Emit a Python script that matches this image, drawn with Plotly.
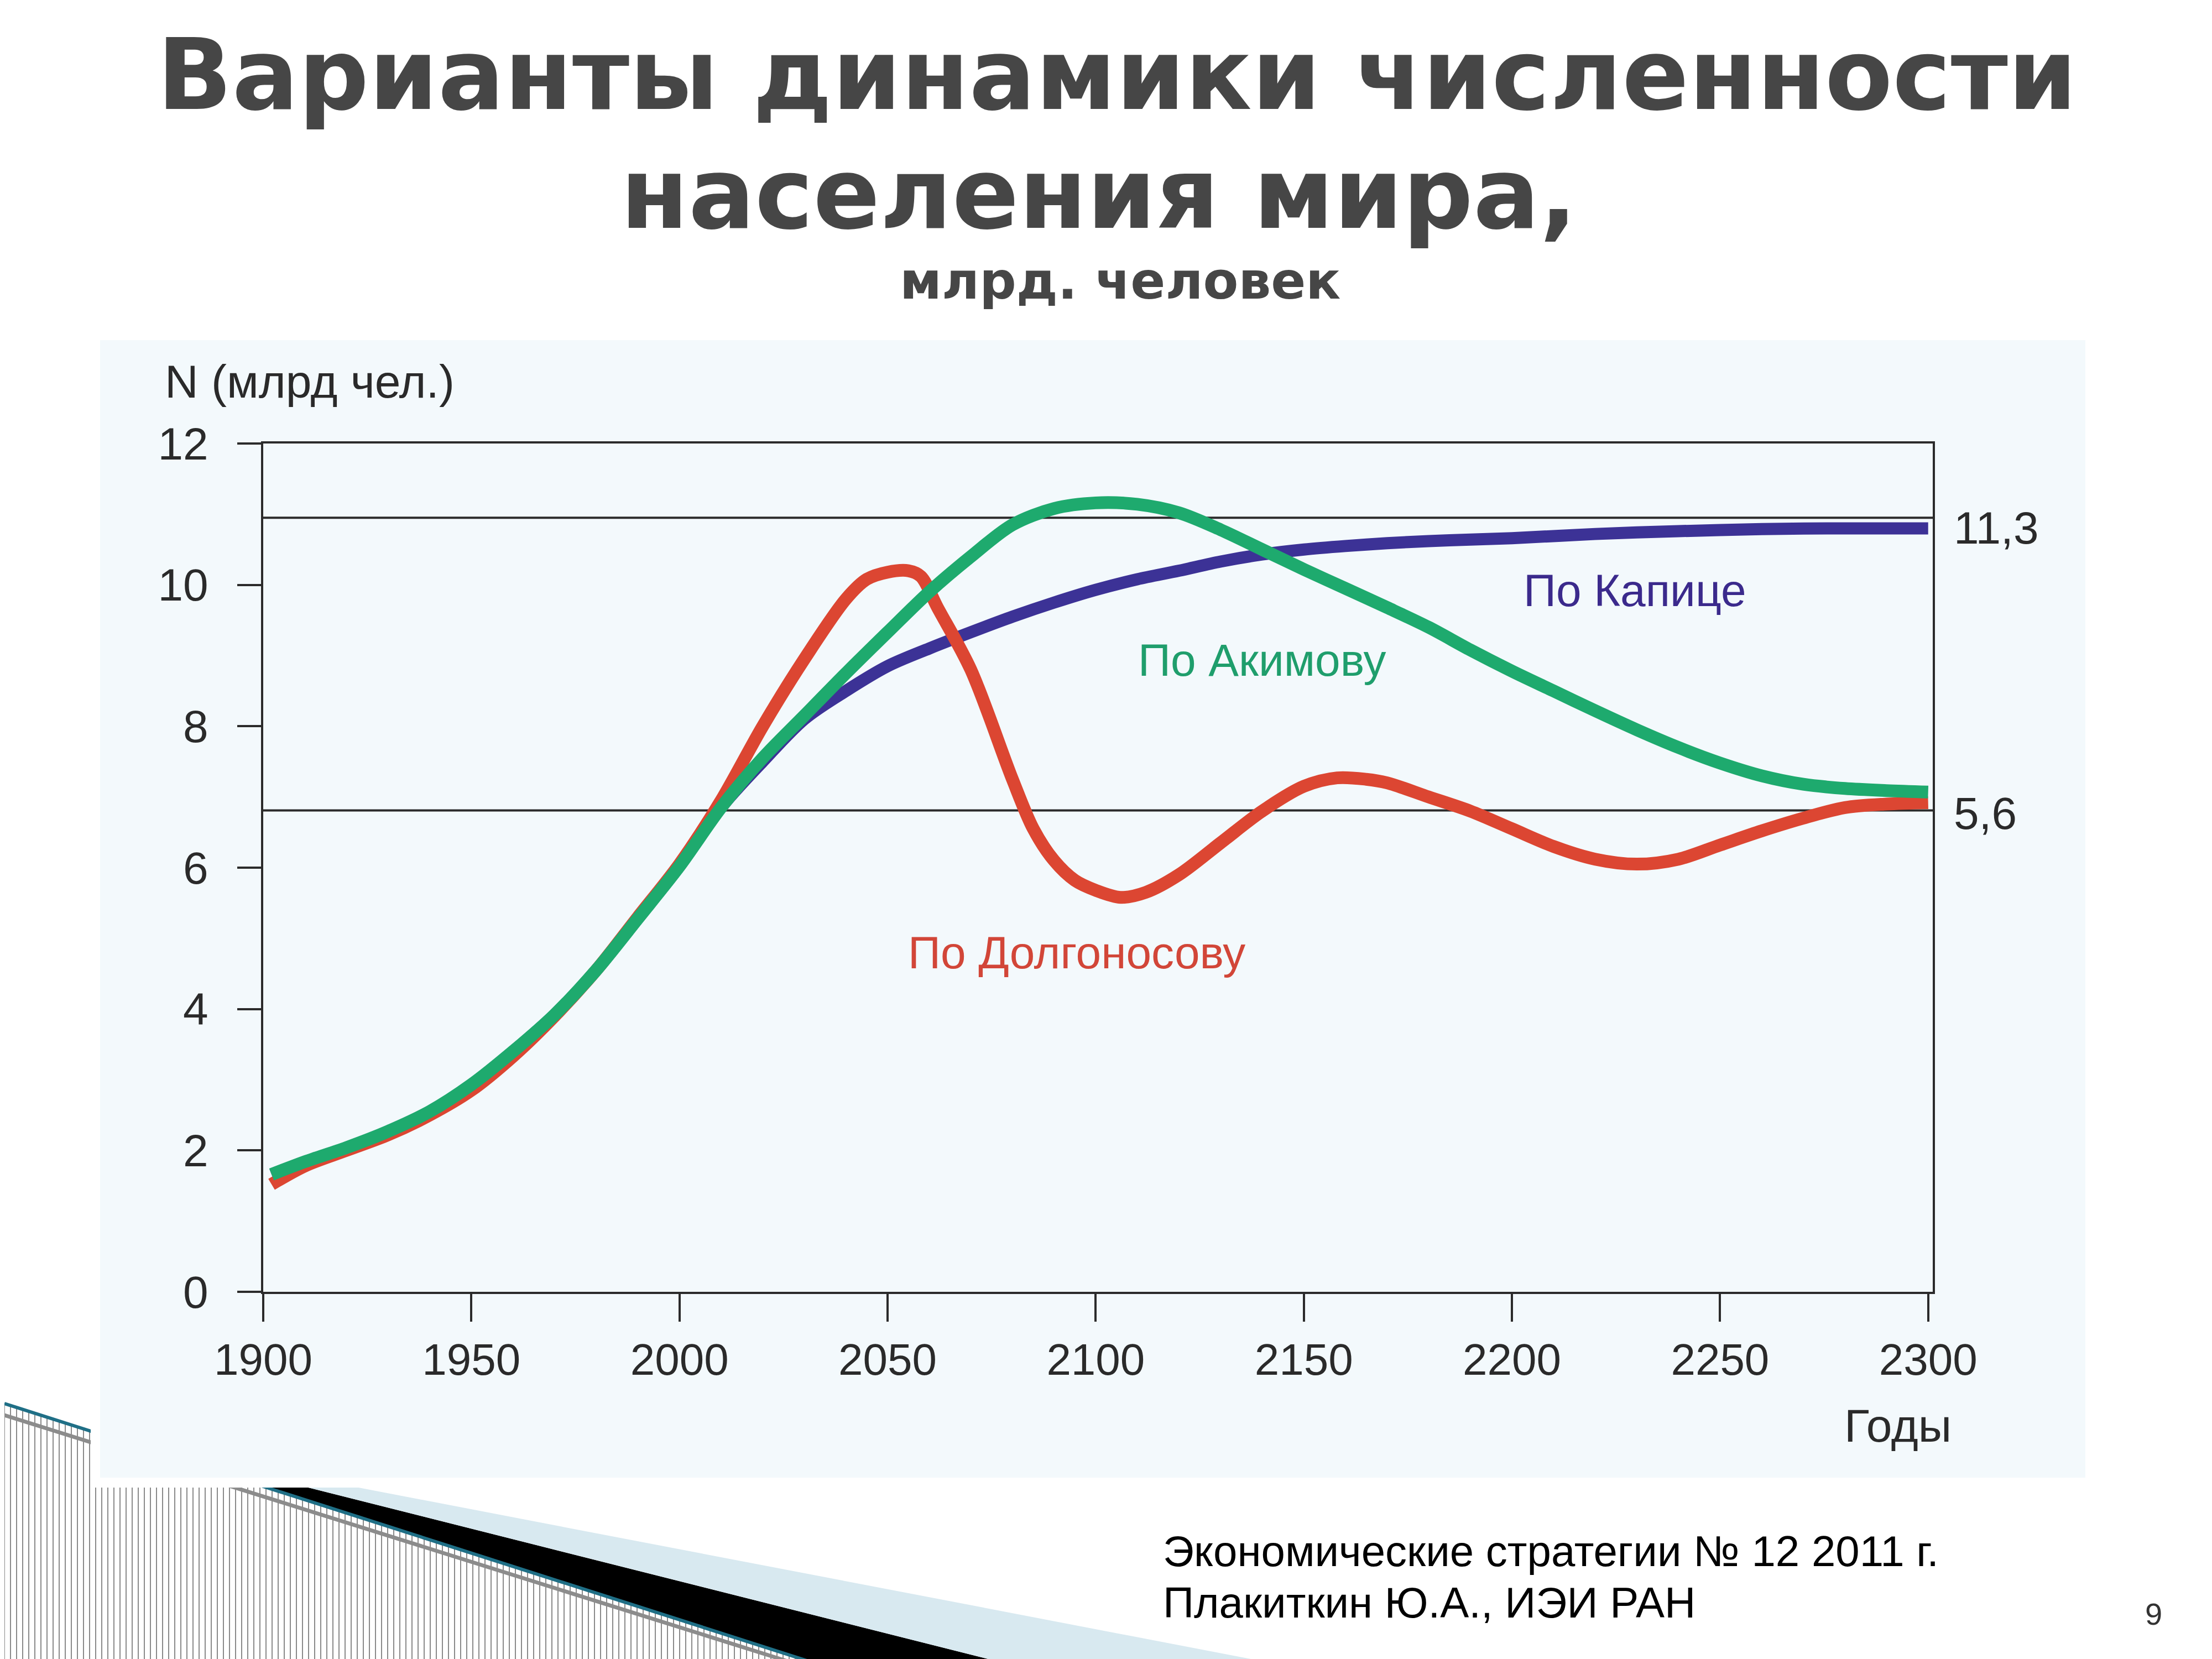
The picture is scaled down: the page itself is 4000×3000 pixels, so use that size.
import plotly.graph_objects as go

W, H = 4000, 3000

# ---------------- data ----------------
years_akimov = [1902, 1910, 1920, 1930, 1940, 1950, 1960, 1970, 1980, 1990, 2000, 2010, 2020, 2030,
                2040, 2050, 2060, 2070, 2080, 2090, 2100, 2110, 2120, 2130, 2140, 2150, 2160, 2170,
                2180, 2190, 2200, 2210, 2220, 2230, 2240, 2250, 2260, 2270, 2280, 2290, 2300]
akimov = [1.66, 1.84, 2.04, 2.27, 2.55, 2.93, 3.40, 3.92, 4.55, 5.28, 6.02, 6.85, 7.55, 8.15,
          8.75, 9.33, 9.90, 10.40, 10.85, 11.08, 11.16, 11.14, 11.02, 10.78, 10.50, 10.22, 9.95, 9.68,
          9.40, 9.08, 8.78, 8.50, 8.22, 7.95, 7.70, 7.48, 7.30, 7.18, 7.12, 7.09, 7.07]

years_kapitsa = [1902, 1910, 1920, 1930, 1940, 1950, 1960, 1970, 1980, 1990, 2000, 2010, 2020, 2030,
                 2040, 2050, 2060, 2070, 2080, 2090, 2100, 2110, 2120, 2130, 2140, 2150, 2160, 2170,
                 2180, 2190, 2200, 2220, 2240, 2260, 2280, 2300]
kapitsa = [1.66, 1.84, 2.04, 2.27, 2.55, 2.93, 3.40, 3.92, 4.55, 5.28, 6.02, 6.85, 7.50, 8.10,
           8.50, 8.85, 9.10, 9.33, 9.55, 9.75, 9.93, 10.08, 10.20, 10.33, 10.43, 10.50, 10.55, 10.59,
           10.62, 10.64, 10.66, 10.72, 10.76, 10.79, 10.80, 10.80]

years_dolg = [1902, 1910, 1920, 1930, 1940, 1950, 1960, 1970, 1980, 1990, 2000, 2010, 2020, 2030,
              2040, 2045, 2050, 2055, 2058, 2062, 2070, 2080, 2085, 2090, 2095, 2100, 2106, 2112,
              2120, 2130, 2140, 2150, 2158, 2165, 2170, 2180, 2190, 2200, 2210, 2220, 2230, 2240,
              2250, 2260, 2270, 2280, 2290, 2300]
dolgonosov = [1.52, 1.78, 2.00, 2.22, 2.50, 2.85, 3.33, 3.90, 4.55, 5.30, 6.05, 6.95, 8.00, 8.95,
              9.80, 10.08, 10.18, 10.20, 10.12, 9.68, 8.80, 7.25, 6.55, 6.10, 5.82, 5.68, 5.58, 5.65,
              5.90, 6.35, 6.80, 7.15, 7.27, 7.25, 7.20, 7.00, 6.80, 6.55, 6.30, 6.12, 6.05, 6.12,
              6.32, 6.52, 6.70, 6.85, 6.90, 6.92]

ref_levels = [10.95, 6.81]
ref_labels = ["11,3", "5,6"]

x_ticks = [1900, 1950, 2000, 2050, 2100, 2150, 2200, 2250, 2300]
y_ticks = [0, 2, 4, 6, 8, 10, 12]

series_names = ["По Капице", "По Акимову", "По Долгоносову"]
series_label_x = [2229.5, 2140, 2095.5]
series_label_y = [9.92, 8.94, 4.80]

title_line1 = "Варианты динамики численности"
title_line2 = "населения мира,"
subtitle = "млрд. человек"
y_title = "N (млрд чел.)"
x_title = "Годы"
source_line1 = "Экономические стратегии № 12 2011 г."
source_line2 = "Плакиткин Ю.А., ИЭИ РАН"
page_no = "9"

# ---------------- styling ----------------
C_BLUE = "#3c3296"
C_GREEN = "#1eaa6e"
C_RED = "#dc4632"
C_AX = "#2b2b2b"
LW = 23
REF_LABEL_SHIFT = [-18, -5]


def px(x):
    return x / W


def py(y):
    return 1 - y / H


fig = go.Figure()

for lev in ref_levels:
    fig.add_trace(go.Scatter(x=[x_ticks[0], 2301.1], y=[lev, lev], mode="lines",
                             line=dict(color=C_AX, width=4), showlegend=False, hoverinfo="skip"))

for yrs, vals, col, w in [(years_kapitsa, kapitsa, C_BLUE, LW - 1),
                          (years_dolg, dolgonosov, C_RED, LW),
                          (years_akimov, akimov, C_GREEN, LW)]:
    fig.add_trace(go.Scatter(x=yrs, y=vals, mode="lines",
                             line=dict(color=col, width=w, shape="spline", smoothing=0.9),
                             showlegend=False, hoverinfo="skip"))

# ---------------- decorations (slide background) ----------------
shapes = []
segs = []
x = 0
while x <= 1467:
    top = 2530 + 0.3204 * x
    segs.append(f"M{px(x):.5f},{py(top):.5f}L{px(x):.5f},0")
    x += 11
shapes.append(dict(type="path", xref="paper", yref="paper", path="".join(segs),
                   line=dict(color="#8a8a8a", width=2), layer="below"))
shapes.append(dict(type="line", xref="paper", yref="paper", x0=px(0), y0=py(2551), x1=px(1429), y1=py(3000),
                   line=dict(color="#8c8c8c", width=7), layer="below"))
shapes.append(dict(type="path", xref="paper", yref="paper",
                   path=f"M{px(204)},{py(2595)}L{px(1811)},{py(3000)}L{px(1467)},{py(3000)}Z",
                   fillcolor="#000000", line=dict(width=0), layer="below"))
shapes.append(dict(type="path", xref="paper", yref="paper",
                   path=f"M{px(260)},{py(2609)}L{px(2296)},{py(3000)}L{px(1811)},{py(3000)}Z",
                   fillcolor="#d8e9f0", line=dict(width=0), layer="below"))
shapes.append(dict(type="line", xref="paper", yref="paper", x0=px(0), y0=py(2530), x1=px(1467), y1=py(3000),
                   line=dict(color="#1f6f86", width=6), layer="below"))
shapes.append(dict(type="rect", xref="paper", yref="paper", x0=px(156), y0=py(2682), x1=px(3780), y1=py(595),
                   fillcolor="#ffffff", line=dict(width=0), layer="below"))
shapes.append(dict(type="rect", xref="paper", yref="paper", x0=px(173), y0=py(2664), x1=px(3763), y1=py(607),
                   fillcolor="#f3f9fc", line=dict(width=0), layer="below"))

annotations = []


def add_text(text, xc, yc, size, color, family="Liberation Sans", xanchor="center", weight="normal"):
    annotations.append(dict(text=text, xref="paper", yref="paper", x=px(xc), y=py(yc),
                            xanchor=xanchor, yanchor="middle", showarrow=False,
                            font=dict(family=family, size=size, color=color, weight=weight)))


add_text(title_line1, 2012, 128, 178, "#464646", family="DejaVu Sans", weight="bold")
add_text(title_line2, 1979, 343, 178, "#464646", family="DejaVu Sans", weight="bold")
add_text(subtitle, 2018, 500, 93, "#464646", family="DejaVu Sans", weight="bold")
add_text(y_title, 288, 682, 84, "#2a2a2a", xanchor="left")
add_text(x_title, 3325, 2570, 84, "#2a2a2a", xanchor="left")
add_text(source_line1, 2093, 2797, 78, "#000000", xanchor="left")
add_text(source_line2, 2093, 2890, 78, "#000000", xanchor="left")
add_text(page_no, 3886, 2910, 56, "#333333")

for lev, lab, sh in zip(ref_levels, ref_labels, REF_LABEL_SHIFT):
    annotations.append(dict(text=lab, xref="x", yref="y", x=2301.1, y=lev, xanchor="left", yanchor="middle",
                            xshift=36, yshift=sh, showarrow=False,
                            font=dict(family="Liberation Sans", size=82, color="#2a2a2a")))

for name, lx, ly, col in zip(series_names, series_label_x, series_label_y, ["#3b2a8c", "#1f9e6c", "#d24638"]):
    annotations.append(dict(text=name, xref="x", yref="y", x=lx, y=ly, xanchor="center", yanchor="middle",
                            showarrow=False, font=dict(family="Liberation Sans", size=82, color=col)))

fig.update_layout(
    template="none",
    width=W, height=H,
    margin=dict(l=0, r=0, t=0, b=0, pad=0, autoexpand=False),
    paper_bgcolor="#ffffff", plot_bgcolor="rgba(0,0,0,0)",
    shapes=shapes, annotations=annotations,
    showlegend=False,
)
fig.update_xaxes(domain=[px(468), px(3487)], range=[1900, 2301.1], tickvals=x_ticks,
                 ticks="outside", ticklen=50, tickwidth=4, tickcolor=C_AX,
                 showline=True, linewidth=4, linecolor=C_AX, mirror=True, automargin=False,
                 showgrid=False, zeroline=False, ticklabelstandoff=0,
                 tickfont=dict(family="Liberation Sans", size=80, color="#2a2a2a"))
fig.update_yaxes(domain=[py(2328), py(794)], range=[0, 12], tickvals=y_ticks,
                 ticks="outside", ticklen=43, tickwidth=4, tickcolor=C_AX,
                 showline=True, linewidth=4, linecolor=C_AX, mirror=True, automargin=False,
                 showgrid=False, zeroline=False, ticklabelstandoff=36,
                 tickfont=dict(family="Liberation Sans", size=82, color="#2a2a2a"))

fig.write_html("out.html")
